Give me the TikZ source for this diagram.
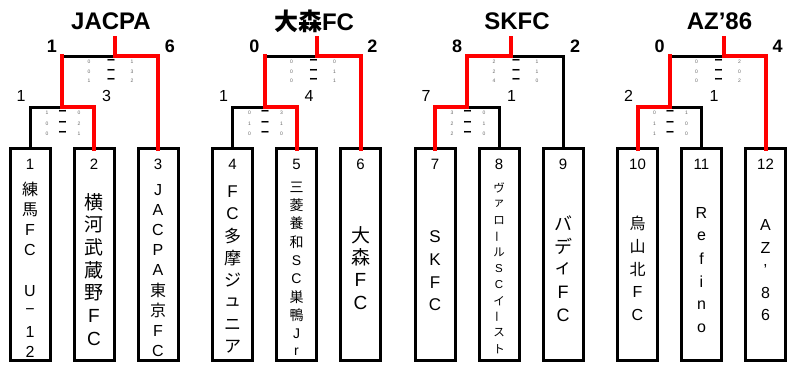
\documentclass[tikz,border=0pt]{standalone}
\usepackage{fontspec}
\usepackage{graphicx}
\setmainfont{Liberation Sans}
\newfontfamily\jp{Noto Sans CJK JP}
\newcommand{\J}[1]{{\jp #1}}
\newcommand{\VB}{\rotatebox[origin=c]{90}{\jp ー}}
\begin{document}
\begin{tikzpicture}[x=1pt,y=-1pt,
  blk/.style={line width=3pt, black, line cap=rect, line join=miter},
  win/.style={line width=4pt, red, line cap=rect, line join=miter},
  teambox/.style={draw, line width=3pt, minimum width=40pt, minimum height=212pt, inner sep=0pt, outer sep=0pt, fill=white},
  titlefont/.style={font=\fontsize{24}{24}\selectfont\bfseries},
  bigscore/.style={font=\fontsize{18}{18}\selectfont\bfseries},
  lowscore/.style={font=\fontsize{16}{16}\selectfont},
  tiny/.style={font=\fontsize{5}{5}\selectfont, text=black!60, inner sep=0pt},
  dashmark/.style={font=\fontsize{8.5}{8.5}\selectfont\jp\bfseries, inner sep=0pt},
  boxnum/.style={font=\fontsize{15}{15}\selectfont, inner sep=0pt},
  ch/.style={inner sep=0pt}
]
\useasboundingbox (0,0) rectangle (787,372);

% ---------- group coordinates ----------
\newcommand{\defgroup}[3]{%
  \coordinate (#1-a) at (#2,107);
  \coordinate (#1-b) at ({#2+64},107);
  \coordinate (#1-m) at ({#2+32},107);
  \coordinate (#1-mt) at ({#2+32},56);
  \coordinate (#1-s) at (#3,56);
  \coordinate (#1-st) at (#3,38);
  \coordinate (#1-c) at ({#2+128},56);
}
\defgroup{g1}{30}{115}
\defgroup{g2}{232.5}{317}
\defgroup{g3}{435}{511}
\defgroup{g4}{637.5}{724}

% ---------- boxes ----------
\foreach \i/\x in {1/30,2/94,3/158,4/232.5,5/296.5,6/360.5,7/435,8/499,9/563,10/637.5,11/701.5,12/765.5}{
  \node[teambox] (b\i) at (\x,254.5) {};
  \node[boxnum] (n\i) at (\x,164) {\i};
}

% ---------- connectors ----------
% group 1
\draw[blk] (b1.north) -- (g1-a) -- (g1-m);
\draw[blk] (g1-mt) -- (g1-s);
\draw[win] (b2.north) -- (g1-b) -- (g1-m) -- (g1-mt);
\draw[win] (b3.north) -- (g1-c) -- (g1-s) -- (g1-st);
% group 2
\draw[blk] (b4.north) -- (g2-a) -- (g2-m);
\draw[blk] (g2-mt) -- (g2-s);
\draw[win] (b5.north) -- (g2-b) -- (g2-m) -- (g2-mt);
\draw[win] (b6.north) -- (g2-c) -- (g2-s) -- (g2-st);
% group 3
\draw[blk] (b8.north) -- (g3-b) -- (g3-m);
\draw[blk] (g3-s) -- (g3-c) -- (b9.north);
\draw[win] (b7.north) -- (g3-a) -- (g3-m) -- (g3-mt) -- (g3-s) -- (g3-st);
% group 4
\draw[blk] (b11.north) -- (g4-b) -- (g4-m);
\draw[blk] (g4-mt) -- (g4-s);
\draw[win] (b10.north) -- (g4-a) -- (g4-m) -- (g4-mt);
\draw[win] (b12.north) -- (g4-c) -- (g4-s) -- (g4-st);

% ---------- titles ----------
\node[titlefont] (t1) at (111,21.5) {JACPA};
\node[titlefont] (t2) at (314,21.5) {{\jp\bfseries 大森}FC};
\node[titlefont] (t3) at (517,21.5) {SKFC};
\node[titlefont] (t4) at (719.5,21.5) {AZ’86};

% ---------- scores ----------
\newcommand{\scores}[6]{%
  \node[bigscore] (#1-fl) at ({#2+22},46.5) {#3};
  \node[bigscore] (#1-fr) at ({#2+140},46.5) {#4};
  \node[lowscore] (#1-sl) at ({#2-9},95.5) {#5};
  \node[lowscore] (#1-sr) at ({#2+76.5},95.5) {#6};
}
\scores{g1}{30}{1}{6}{1}{3}
\scores{g2}{232.5}{0}{2}{1}{4}
\scores{g3}{435}{8}{2}{7}{1}
\scores{g4}{637.5}{0}{4}{2}{1}

% set scores: upper (final) and lower (semi)
\newcommand{\sets}[4]{% #1 name, #2 x0, #3 upper list, #4 lower list
  \foreach \l/\r [count=\k from 0] in {#3}{
    \node[tiny] (#1-u\k l) at ({#2+59},{62+\k*9.5}) {\l};
    \node[dashmark] (#1-u\k d) at ({#2+81},{61.5+\k*9.5}) {ー};
    \node[tiny] (#1-u\k r) at ({#2+102},{62+\k*9.5}) {\r};
  }
  \foreach \l/\r [count=\k from 0] in {#4}{
    \node[tiny] (#1-l\k l) at ({#2+17},{113+\k*10.5}) {\l};
    \node[dashmark] (#1-l\k d) at ({#2+32.5},{112.5+\k*10.5}) {ー};
    \node[tiny] (#1-l\k r) at ({#2+49},{113+\k*10.5}) {\r};
  }
}
\sets{g1}{30}{0/1,0/3,1/2}{1/0,0/2,0/1}
\sets{g2}{232.5}{0/0,0/1,0/1}{0/3,1/1,0/0}
\sets{g3}{435}{2/1,2/1,4/0}{3/0,2/1,2/0}
\sets{g4}{637.5}{0/2,0/0,0/2}{0/1,1/0,1/0}

% ---------- team names (vertical) ----------
\newcommand{\vtext}[6]{% #1 id, #2 x, #3 y0, #4 step, #5 size, #6 list
  \foreach \c [count=\k from 0] in {#6}{
    \node[ch, font=\fontsize{#5}{#5}\selectfont] (v#1-\k) at (#2,{#3+\k*#4}) {\c};
  }
}
\vtext{1}{30}{189}{20.4}{16}{\J{練},\J{馬},F,C,{},U,−,1,2}
\vtext{2}{94}{202}{22.8}{19}{\J{横},\J{河},\J{武},\J{蔵},\J{野},F,C}
\vtext{3}{158}{190}{20.1}{16}{J,A,C,P,A,\J{東},\J{京},F,C}
\vtext{4}{232.5}{192}{22.1}{17}{F,C,\J{多},\J{摩},\J{ジ},\J{ュ},\J{ニ},\J{ア}}
\vtext{5}{296.5}{187}{18.3}{14}{\J{三},\J{菱},\J{養},\J{和},S,C,\J{巣},\J{鴨},J,r}
\vtext{6}{360.5}{235}{22.7}{19}{\J{大},\J{森},F,C}
\vtext{7}{435}{237}{22.7}{17}{S,K,F,C}
\vtext{8}{499}{188}{16.1}{11.5}{\J{ヴ},\J{ァ},\J{ロ},\VB,\J{ル},S,C,\J{イ},\VB,\J{ス},\J{ト}}
\vtext{9}{563}{223}{23}{18}{\J{バ},\J{デ},\J{ィ},F,C}
\vtext{10}{637.5}{223}{23}{16}{\J{烏},\J{山},\J{北},F,C}
\vtext{11}{701.5}{213}{23}{16}{R,e,f,i,n,o}
\vtext{12}{765.5}{225}{22.5}{16}{A,Z,’,8,6}
\end{tikzpicture}
\end{document}
